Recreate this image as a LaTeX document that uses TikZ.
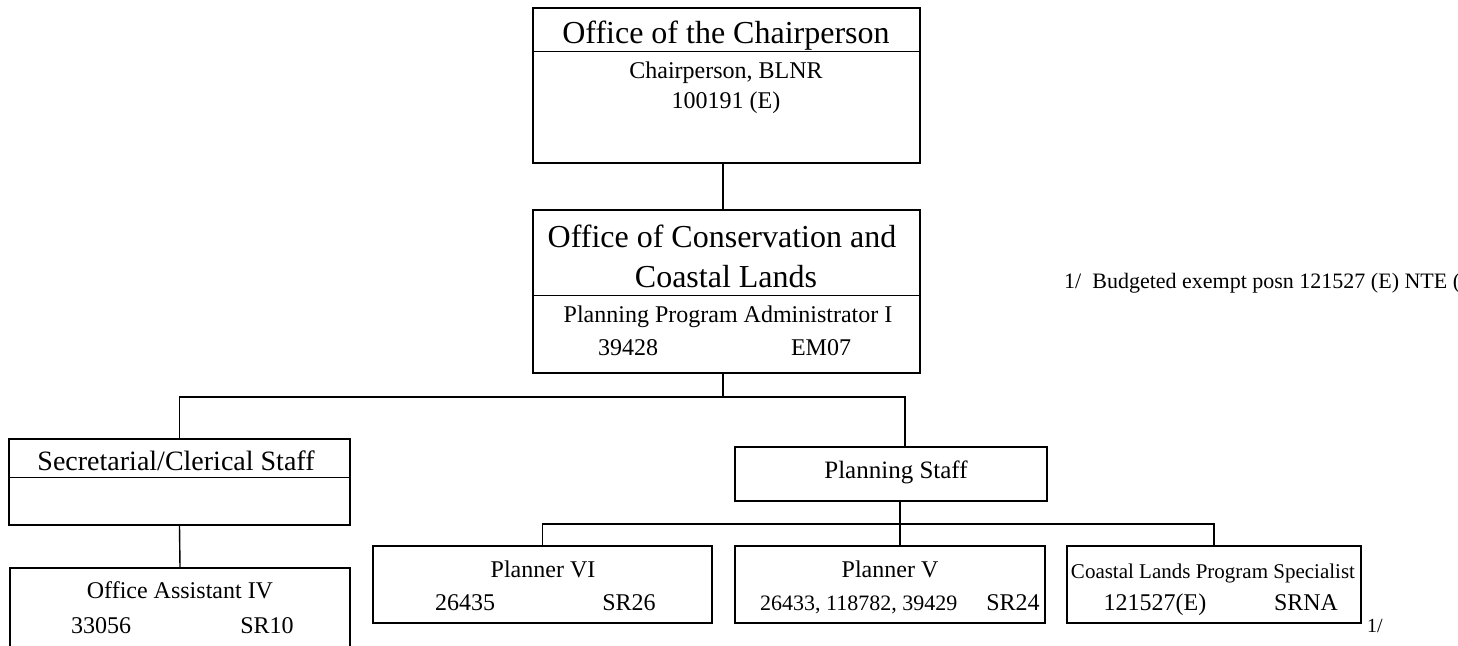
\documentclass[tikz,border=0pt]{standalone}
\usepackage{fontspec}
\setmainfont{Liberation Serif}
\begin{document}
\begin{tikzpicture}[x=1pt,y=-1pt,
  box/.style={draw,line width=1.4pt,rectangle,inner sep=0pt},
  link/.style={line width=1.4pt},
  txt/.style={inner sep=0pt,anchor=base},
  big/.style={font=\fontsize{32}{38}\selectfont},
  mid/.style={font=\fontsize{24}{29}\selectfont},
  sub/.style={font=\fontsize{28}{33}\selectfont},
  note/.style={font=\fontsize{22}{26}\selectfont}]
\useasboundingbox (0,0) rectangle (1458,645);
\clip (0,0) rectangle (1458,645);
% boxes
\node[box,minimum width=387pt,minimum height=155pt] (chair) at (726.5,85.5) {};
\node[box,minimum width=387pt,minimum height=163pt] (cons) at (726.5,291.5) {};
\node[box,minimum width=341pt,minimum height=86pt] (sec) at (179.5,482) {};
\node[box,minimum width=340pt,minimum height=100pt] (oa) at (180,618) {};
\node[box,minimum width=312pt,minimum height=54pt] (ps) at (891,474) {};
\node[box,minimum width=339pt,minimum height=77pt] (pvi) at (542.5,584.5) {};
\node[box,minimum width=310pt,minimum height=77pt] (pv) at (890,584.5) {};
\node[box,minimum width=294pt,minimum height=77pt] (cls) at (1214,584.5) {};
% dividers
\draw[link] (chair.north west) ++(0,44) -- ++(387,0);
\draw[link] (cons.north west) ++(0,86) -- ++(387,0);
\draw[link] (sec.north west) ++(0,39) -- ++(341,0);
% junctions
\coordinate (j1) at (723,397);
\coordinate (j2) at (905,397);
\coordinate (bus) at (900,524);
% connectors
\draw[link] (chair.south -| j1) -- (cons.north -| j1);
\draw[link] (cons.south -| j1) -- (j1);
\draw[link] (sec.north) |- (j2) -- (ps.north -| j2);
\draw[link] (sec.south) -- (oa.north);
\draw[link] (ps.south -| bus) -- (pv.north -| bus);
\draw[link] (pvi.north) |- (bus) -| (cls.north);
% texts
\node[txt,big] (t1) at (726,43) {Office of the Chairperson};
\node[txt,mid] (t2) at (726,78) {Chairperson, BLNR};
\node[txt,mid] (t3) at (726,108) {100191 (E)};
\node[txt,big] (t4) at (722,247) {Office of Conservation and};
\node[txt,big] (t5) at (726,287) {Coastal Lands};
\node[txt,mid] (t6) at (728,322) {Planning Program Administrator I};
\node[txt,mid] (t7) at (628,355) {39428};
\node[txt,mid] (t8) at (821,355) {EM07};
\node[txt,sub] (t9) at (176,470) {Secretarial/Clerical Staff};
\node[txt,mid] (t10) at (180,598) {Office Assistant IV};
\node[txt,mid] (t11) at (101,633) {33056};
\node[txt,mid] (t12) at (267,633) {SR10};
\node[txt,font=\fontsize{25}{30}\selectfont] (t13) at (896,478) {Planning Staff};
\node[txt,mid] (t14) at (543,577) {Planner VI};
\node[txt,mid] (t15) at (465,610) {26435};
\node[txt,mid] (t16) at (629,610) {SR26};
\node[txt,mid] (t17) at (890,577) {Planner V};
\node[txt,font=\fontsize{22}{26}\selectfont,anchor=base west] (t18) at (760,610) {26433, 118782, 39429};
\node[txt,mid] (t19) at (1013,610) {SR24};
\node[txt,font=\fontsize{21}{25}\selectfont] (t20) at (1213,578) {Coastal Lands Program Specialist};
\node[txt,mid] (t21) at (1155,610) {121527(E)};
\node[txt,mid] (t22) at (1306,610) {SRNA};
\node[txt,font=\fontsize{20}{24}\selectfont,anchor=base west] (t23) at (1367,632) {1/};
\node[txt,note,anchor=base west] (t24) at (1064,288) {1/\ \ Budgeted exempt posn 121527 (E) NTE (};
\end{tikzpicture}
\end{document}
